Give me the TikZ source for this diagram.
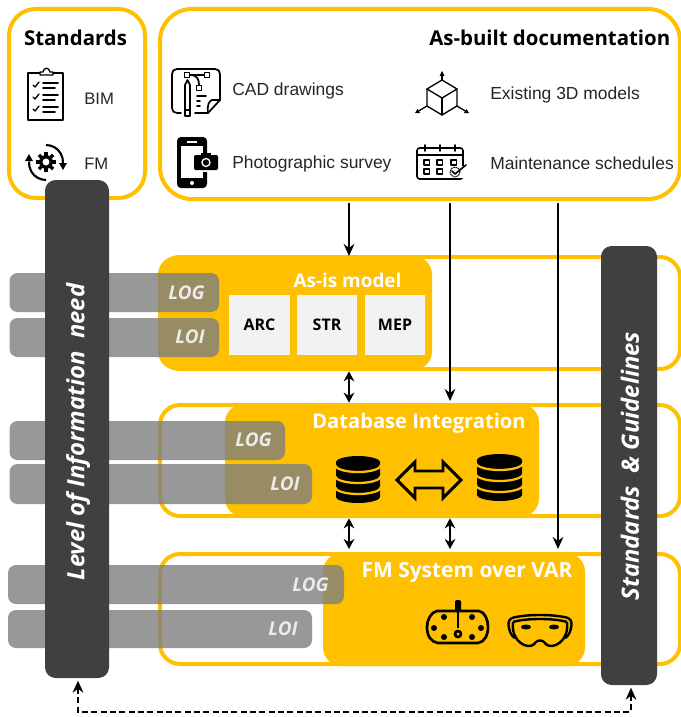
\documentclass[tikz,border=0pt]{standalone}
\usepackage{fontspec}
\setmainfont{Open Sans}
\newfontfamily\arialf{Liberation Sans}
\usetikzlibrary{arrows.meta}
\definecolor{fmyellow}{HTML}{FFC000}
\definecolor{fmdark}{HTML}{404040}
\definecolor{fmgrey}{HTML}{7F7F7F}
\definecolor{fmtext}{HTML}{262626}
\newcommand\bx[6]{\node[#1,minimum width=(#5-#3)*0.75pt,minimum height=(#6-#4)*0.75pt,inner sep=0pt,outer sep=0pt] (#2) at ({(#3+#5)/2},{(#4+#6)/2}) {};}
\newcommand\dbicon[3]{\begin{scope}[shift={(#1,#2)}]
\fill[black,rounded corners=1pt] (-#3,7) arc[start angle=180,end angle=360,x radius=#3,y radius=7] -- (#3,40) arc[start angle=0,end angle=180,x radius=#3,y radius=7] -- cycle;
\foreach \yy in {9,20,31} \draw[fmyellow,line width=1.7pt] (-#3-1,\yy) arc[start angle=180,end angle=0,x radius=#3+1,y radius=7];
\end{scope}}
\tikzset{
 every node/.append style={inner sep=0pt},
 frame/.style={draw=fmyellow,line width=3pt,rounded corners=20pt,fill=white},
 rowframe/.style={draw=fmyellow,line width=3pt,rounded corners=15pt},
 yel/.style={fill=fmyellow,rounded corners=14pt},
 bar/.style={fill=fmgrey,fill opacity=.8,rounded corners=6pt},
 pillar/.style={fill=fmdark,rounded corners=8pt},
 sq/.style={fill=black!5},
 head/.style={font=\bfseries\fontsize{15.3pt}{18pt}\selectfont,text=black},
 whead/.style={font=\bfseries\fontsize{15.4pt}{18pt}\selectfont,text=white},
 item/.style={font=\arialf\fontsize{13.1pt}{15pt}\selectfont,text=fmtext,anchor=west},
 smallitem/.style={item,font=\arialf\fontsize{12.5pt}{15pt}\selectfont},
 lvl/.style={font=\bfseries\itshape\fontsize{14.2pt}{16pt}\selectfont,text=white!92!black,anchor=east},
 sqt/.style={font=\bfseries\fontsize{12pt}{14pt}\selectfont,text=black},
 rot/.style={font=\bfseries\itshape\fontsize{17.9pt}{20pt}\selectfont,text=white,rotate=90},
 arr/.style={line width=1.8pt,-{Stealth[length=9pt,width=8pt]}},
 darr/.style={line width=1.8pt,{Stealth[length=7.5pt,width=8pt]}-{Stealth[length=7.5pt,width=8pt]}},
 dasharr/.style={line width=1.8pt,dash pattern=on 4.5pt off 2.5pt,{Stealth[length=9pt,width=8pt]}-{Stealth[length=9pt,width=8pt]}},
 ic/.style={line width=1pt,black,line cap=round,line join=round},
}
\begin{document}
\begin{tikzpicture}[x=0.75pt,y=-0.75pt]
\useasboundingbox (0,0) rectangle (681,717);
\fill[white] (0,0) rectangle (681,717);
\begin{scope}
\clip (0,0) rectangle (681,717);
% frames
\bx{frame}{stdbox}{9}{9}{145}{198}
\bx{frame,rounded corners=24pt}{built}{160}{9}{680}{199}
\bx{rowframe}{row1}{160}{257}{680}{369}
\bx{rowframe}{row2}{160}{405}{680}{516}
\bx{rowframe}{row3}{160}{554}{680}{664}
% yellow blocks
\bx{yel}{asis}{158}{256}{432}{370}
\bx{yel}{dbi}{225}{404}{539}{517}
\bx{yel}{fms}{323}{553}{585}{666}
% squares
\bx{sq}{arc}{229}{295}{290}{355}
\bx{sq}{str}{297}{295}{357}{355}
\bx{sq}{mep}{365}{295}{425}{355}
% grey bars
\bx{bar}{log1}{9.5}{273}{219}{312}
\bx{bar}{loi1}{9.5}{318}{219}{357}
\bx{bar}{log2}{9.5}{421}{285}{460}
\bx{bar}{loi2}{9.5}{464}{312}{504}
\bx{bar}{log3}{8}{565}{344}{604}
\bx{bar}{loi3}{8}{610}{312}{648}
% pillars
\bx{pillar}{loin}{45}{180}{109}{678}
\bx{pillar}{sg}{601}{246}{657}{685}
\end{scope}
% titles
\node[head] (t1) at (75.5,38) {Standards};
\node[head,anchor=east] (t2) at (670.5,38) {As-built documentation};
\node[whead,font=\bfseries\fontsize{14.2pt}{18pt}\selectfont] (t3) at (347.5,280) {As-is model};
\node[whead,font=\bfseries\fontsize{15.1pt}{18pt}\selectfont] (t4) at (419,423) {Database Integration};
\node[whead,font=\bfseries\fontsize{15.7pt}{18pt}\selectfont] (t5) at (467,572) {FM System over VAR};
% items
\node[smallitem] (i1) at (84,99) {BIM};
\node[smallitem] (i2) at (84,163.5) {FM};
\node[item] (i3) at (232,91) {CAD drawings};
\node[item] (i4) at (232,163.5) {Photographic survey};
\node[item] (i5) at (490,95) {Existing 3D models};
\node[item] (i6) at (490,163.5) {Maintenance schedules};
% squares text
\node[sqt] (s1) at (arc) {ARC};
\node[sqt] (s2) at (str) {STR};
\node[sqt] (s3) at (mep) {MEP};
% level labels
\node[lvl] (l1) at (205,293) {LOG};
\node[lvl] (l2) at (205,337) {LOI};
\node[lvl] (l3) at (272,440) {LOG};
\node[lvl] (l4) at (300,484) {LOI};
\node[lvl] (l5) at (329,585) {LOG};
\node[lvl] (l6) at (298,629) {LOI};
% pillar text
\node[rot] (r1) at (78,432) {Level of Information\ \ need};
\node[rot] (r2) at (630,466) {Standards\ \ \&\ Guidelines};
% connectors
\coordinate (c1) at (349,0);
\coordinate (c2) at (450,0);
\coordinate (c3) at (558,0);
\draw[arr,shorten <=3pt] (built.south -| c1) -- (asis.north -| c1);
\draw[arr,shorten <=3pt,shorten >=3pt] (built.south -| c2) -- (row2.north -| c2);
\draw[arr,shorten <=3pt,shorten >=3pt] (built.south -| c3) -- (fms.north -| c3);
\draw[darr,shorten <=1pt,shorten >=1pt] (asis.south -| c1) -- (dbi.north -| c1);
\draw[darr,shorten <=1pt,shorten >=3pt] (dbi.south -| c1) -- (fms.north -| c1);
\draw[darr,shorten <=1pt,shorten >=3pt] (dbi.south -| c2) -- (fms.north -| c2);
\coordinate (dl) at (78,712);
\coordinate (dr) at (631,712);
\draw[dasharr,shorten <=2pt,shorten >=2pt] (loin.south -| dl) -- (dl) -- (dr) -- (sg.south -| dr);
% clipboard
\begin{scope}[ic]
\draw (40,73) -- (28,73) -- (28,120) -- (63,120) -- (63,73) -- (53,73);
\draw (40,75) -- (40,72) -- (43,72) .. controls (44,67) and (49,67) .. (50,72) -- (53,72) -- (53,75) -- cycle;
\foreach \yy in {85,97,109}{
\draw (33,\yy) -- (35,\yy+2) -- (39,\yy-3);
\draw[line width=1.2pt] (43,\yy-2) -- (58,\yy-2);
\draw[line width=1.2pt] (43,\yy+3) -- (55,\yy+3);}
\end{scope}
% gear + arrows
\begin{scope}[shift={(46,162)}]
\draw[line width=2.6pt] (0,0) circle[radius=5.5];
\foreach \a in {0,45,...,315} \draw[line width=2.6pt] (\a:5.5) -- (\a:10);
\draw[line width=1.6pt] (0,-17) arc[start angle=270,end angle=365,radius=17];
\draw[line width=1.6pt] (0,18) arc[start angle=90,end angle=185,radius=17];
\fill (13,1) -- (21,1) -- (17,8) -- cycle;
\fill (-13,-1) -- (-21,-1) -- (-17,-8) -- cycle;
\end{scope}
% CAD icon
\begin{scope}[ic,line width=1.3pt]
\draw (181,113) -- (177,113) .. controls (174,113) and (172,111) .. (172,108) -- (172,74) .. controls (172,71) and (174,69) .. (177,69) -- (215,69) .. controls (218,69) and (220,71) .. (220,74) -- (220,100) -- (208,113) -- (195,113);
\draw (220,100) -- (212,100) .. controls (209,101) and (207,105) .. (208,113);
\draw (185,85) -- (185,116) -- (190,116) -- (190,85) -- (187.5,80) -- cycle;
\draw (185,110) -- (190,110);
\draw (190,75) -- (205,75);
\draw (190,75) .. controls (197,75) and (199,79) .. (199,85);
\foreach \p in {(187,75),(207,75),(199,88)} \draw[fill=white,line width=1pt] \p ++(-2.5,-2.5) rectangle ++(5,5);
\draw (197,96) -- (206,96); \draw (197,101) -- (200,101); \draw (197,106) -- (200,106);
\end{scope}
% phone
\fill[black,rounded corners=3pt] (177,137) rectangle (207,188);
\fill[white] (181,146) rectangle (203,178);
\fill[white] (187,140.5) rectangle (197,142.5);
\fill[white] (192,183) circle[radius=2];
\fill[white] (192,153) rectangle (220,172);
\fill[black,rounded corners=1pt] (194,155) rectangle (218,170);
\fill[black] (201,153) rectangle (211,156);
\draw[white,line width=1pt] (206,162.5) circle[radius=4];
% cube
\begin{scope}[ic,line width=1pt]
\draw (442,80) -- (427,89) -- (442,98) -- (457,89) -- cycle;
\draw (427,89) -- (427,106) -- (442,115) -- (457,106) -- (457,89);
\draw (442,98) -- (442,115);
\draw (442,80) -- (442,73);
\draw (427,106) -- (417,112);
\draw (457,106) -- (467,112);
\end{scope}
\fill (442,71) -- (439.5,76) -- (444.5,76) -- cycle;
\fill (415,113) -- (420,113) -- (417.5,109) -- cycle;
\fill (469,113) -- (464,113) -- (466.5,109) -- cycle;
% calendar
\begin{scope}[ic,line width=1.2pt]
\draw[rounded corners=2pt] (417,148) rectangle (463,179);
\draw (417,155) -- (463,155);
\foreach \xx in {425,440,455} \draw (\xx,145) -- (\xx,151);
\foreach \xx in {424,437,451} \draw (\xx,160) rectangle ++(5.5,5);
\foreach \xx in {424,437} \draw (\xx,169) rectangle ++(5.5,5);
\fill[white] (450,166) rectangle (464,178);
\draw[line width=.8pt,densely dotted] (455,172) circle[radius=5];
\draw[line width=1.2pt] (452,171) -- (455,174) -- (466,165);
\end{scope}
% databases
\dbicon{358}{456}{22}
\dbicon{499.5}{454}{22.5}
% double arrow
\draw[line width=2.2pt,line join=miter] (397,480) -- (415,462) -- (415,471) -- (443,471) -- (443,462) -- (461,480) -- (443,498) -- (443,488) -- (415,488) -- (415,498) -- cycle;
% VR headset
\begin{scope}[line width=2pt,black]
\draw (437,611) -- (479,611) .. controls (485,612) and (488,620) .. (488,627) .. controls (488,636) and (484,642) .. (478,643) -- (438,643) .. controls (431,642) and (427,636) .. (427,627) .. controls (427,620) and (431,612) .. (437,611) -- cycle;
\fill[rounded corners=1pt] (455,612) -- (455,600) -- (461,600) -- (461,612) -- cycle;
\draw (458,610) -- (458,628);
\draw (458,634) circle[radius=3];
\foreach \p in {(444,617),(472,617),(434,628),(481,628),(444,637),(472,637)} \fill \p circle[radius=3];
\end{scope}
% hololens
\begin{scope}[line width=1.8pt,black]
\draw (512,618) .. controls (525,614) and (555,614) .. (568,618) .. controls (572,620) and (572,624) .. (571,628) .. controls (570,634) and (567,637) .. (565,638);
\draw (512,618) .. controls (508,620) and (508,624) .. (509,628) .. controls (510,634) and (513,637) .. (515,638);
\draw (513,622) .. controls (525,618) and (555,618) .. (567,622);
\draw (513,622) .. controls (512,630) and (514,640) .. (524,645) .. controls (530,647) and (533,646) .. (536,642) .. controls (538,640) and (542,640) .. (544,642) .. controls (547,646) and (550,647) .. (556,645) .. controls (566,640) and (568,630) .. (567,622);
\fill (526,627) ellipse[x radius=5,y radius=2.5];
\fill (554,627) ellipse[x radius=5,y radius=2.5];
\end{scope}
\end{tikzpicture}
\end{document}
